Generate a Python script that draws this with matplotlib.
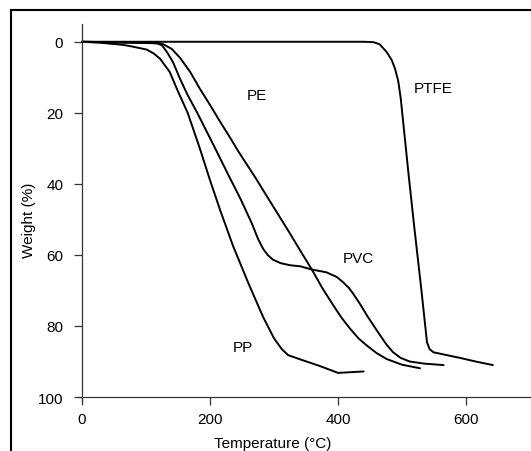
import numpy as np
import matplotlib
matplotlib.use("Agg")
import matplotlib.pyplot as plt
from matplotlib.lines import Line2D

plt.rcParams['font.family'] = ['Liberation Sans', 'DejaVu Sans']

# TGA curves: temperature (°C) / weight loss (%)
pe_t = [0, 60, 110, 120, 127, 140, 153, 169, 184, 200, 215, 230, 244, 270, 294, 325, 341, 359, 376, 393,
        406, 419, 432, 445, 460, 476, 500, 528]
pe_w = [0, 0.2, 0.3, 0.4, 0.7, 2, 4.5, 8.5, 13.2, 17.8, 22.3, 26.6, 30.8, 38, 45, 54, 58.8, 64.1, 69.5, 74.3,
        77.8, 80.8, 83.5, 85.5, 87.6, 89.3, 90.9, 91.9]

pvc_t = [0, 60, 110, 118, 125, 133, 142, 153, 165, 180, 208, 230, 247, 265, 275, 283, 290, 298, 310, 325,
         341, 359, 382, 398, 408, 417, 424, 435, 445, 456, 466, 476, 486, 498, 512, 535, 565]
pvc_w = [0, 0.2, 0.4, 0.5, 1, 3, 5.7, 10.4, 15, 20, 30, 38, 44, 51, 55.5, 58.3, 60, 61.3, 62.3, 62.9,
         63.2, 64.1, 64.9, 66.2, 67.7, 69.3, 71, 74, 77, 80, 82.7, 85.3, 87.4, 89, 90, 90.6, 91]

pp_t = [0, 30, 60, 68, 80, 101, 112, 122, 137, 148, 165, 184, 200, 216, 236, 260, 283, 300, 312, 322,
        341, 372, 400, 440]
pp_w = [0, 0.3, 0.8, 1, 1.4, 2.2, 3.3, 4.8, 8.5, 13.2, 20, 30, 39, 47.5, 57.5, 68, 77.5, 83.5, 86.5, 88.2,
        89.4, 91.3, 93.2, 92.8]

ptfe_t = [0, 440, 455, 465, 476, 484, 489, 494, 498, 502, 510, 519, 530, 539, 543, 549, 570, 591, 615, 642]
ptfe_w = [0, 0, 0.1, 0.7, 2.9, 5.2, 7.6, 11, 16, 23, 37, 52, 69.5, 84.6, 86.5, 87.4, 88.2, 89, 90, 91]

labels = ["PE", "PVC", "PP", "PTFE"]
label_pos = [(273, 15), (431, 61), (252, 86), (548, 13)]

xticks = [0, 200, 400, 600]
yticks = [0, 20, 40, 60, 80, 100]

fig = plt.figure(figsize=(5.31, 4.52), dpi=100)
ax = fig.add_axes([0.1473, 0.1115, 0.8527, 0.8332])

for t, w in [(pe_t, pe_w), (pvc_t, pvc_w), (pp_t, pp_w), (ptfe_t, ptfe_w)]:
    ax.plot(t, w, color='black', lw=1.4, solid_joinstyle='round', solid_capstyle='round')

for name, (tx, ty) in zip(labels, label_pos):
    ax.text(tx, ty, name, fontsize=11, ha='center', va='center')

ax.set_xlim(-6, 701.5)
ax.set_ylim(101, -5)
ax.spines['top'].set_visible(False)
ax.spines['right'].set_visible(False)
ax.spines['left'].set_position(('data', 0))
ax.spines['bottom'].set_position(('data', 100))
for s in ['left', 'bottom']:
    ax.spines[s].set_linewidth(0.9)
    ax.spines[s].set_color('#333333')

ax.set_xticks(xticks)
ax.set_yticks(yticks)
ax.tick_params(axis='both', direction='out', length=5.5, width=0.9, color='#333333', labelsize=11)
ax.tick_params(axis='y', pad=8)
ax.tick_params(axis='x', pad=5)

fig.text(29 / 531, 0.513, "Weight (%)", rotation=90, ha='center', va='center', fontsize=11)
fig.text(0.514, 0.018, "Temperature (°C)", ha='center', va='center', fontsize=11)

# border of the scanned figure (only left and top edges visible)
fig.add_artist(Line2D([10.5 / 531, 10.5 / 531], [0, 1 - 10.5 / 452], transform=fig.transFigure, color='black', lw=1.5))
fig.add_artist(Line2D([10.5 / 531, 1], [1 - 10.5 / 452, 1 - 10.5 / 452], transform=fig.transFigure, color='black', lw=1.5))

fig.savefig("out.png", dpi=100)
